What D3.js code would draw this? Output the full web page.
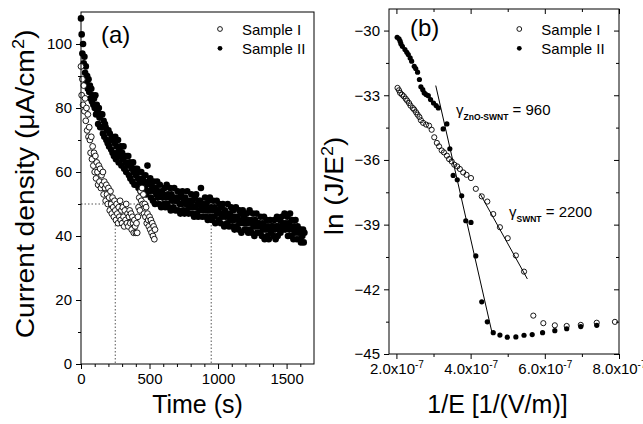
<!DOCTYPE html>
<html>
<head>
<meta charset="utf-8">
<script src="https://cdn.jsdelivr.net/npm/d3@7"></script>
<style>
  html, body { margin: 0; padding: 0; background: #fff; }
  svg { display: block; }
</style>
</head>
<body>
<svg id="chart" width="643" height="424"></svg>
<script>
// (a) current density (µA/cm2) vs time, one reading every STEP seconds
const SAMPLE1_STEP = 5;
const sample1Current = [
  93, 84, 89, 81, 87, 79, 83,
  76, 80, 73, 78, 71, 74,
  70, 66, 71, 64, 68, 62, 66, 60,
  65, 58, 63, 60, 56, 62, 57, 61, 55, 59,
  56, 60, 53, 57, 55, 51, 56, 53, 50, 55,
  52, 48, 54, 50, 47, 52, 49, 46, 51, 48,
  45, 50, 47, 44, 49, 46, 51, 45, 48, 44,
  49, 46, 43, 48, 45, 50, 44, 47, 43, 46,
  48, 44, 47, 42, 46, 44, 41, 45, 43, 41,
  44, 41, 46, 49, 52, 48, 54, 51, 55, 50,
  53, 47, 50, 46, 49, 44, 47, 45, 43, 46,
  42, 45, 41, 44, 40, 43, 39, 42
];
const SAMPLE2_STEP = 5;
const sample2Current = [
  108, 103, 97, 100, 94, 96, 91, 93, 88, 90, 86, 89, 85, 87, 83, 86, 82, 84, 81, 83,
  80, 84, 78, 81, 79, 75, 80, 77, 74, 78, 74, 78, 72, 76, 71, 75, 74, 70, 73, 69,
  73, 68, 72, 70, 67, 71, 66, 70, 65, 69, 71, 64, 68, 66, 70, 63, 67, 65, 68, 62,
  66, 64, 68, 61, 65, 63, 60, 65, 62, 65, 59, 63, 58, 62, 61, 57, 63, 60, 56, 61,
  59, 56, 61, 58, 55, 60, 57, 54, 60, 56, 58, 53, 57, 55, 59, 53, 56, 62, 54, 57,
  54, 58, 52, 56, 55, 51, 57, 54, 50, 55, 53, 57, 52, 54, 50, 56, 53, 49, 54, 52,
  53, 50, 55, 49, 52, 56, 50, 53, 49, 52, 55, 48, 53, 51, 52, 49, 55, 51, 48, 52,
  51, 54, 48, 52, 50, 47, 53, 50, 54, 48, 51, 47, 52, 50, 48, 54, 50, 47, 51, 49,
  50, 53, 47, 51, 49, 46, 52, 49, 53, 47, 50, 46, 51, 48, 51, 55, 49, 46, 50, 48,
  49, 52, 46, 50, 48, 45, 51, 48, 52, 46, 49, 45, 48, 51, 46, 49, 44, 48, 51, 47,
  48, 45, 50, 47, 44, 49, 46, 50, 47, 43, 48, 46, 47, 44, 50, 46, 43, 47, 45, 49,
  46, 43, 48, 45, 42, 46, 49, 43, 46, 45, 42, 48, 44, 47, 41, 45, 48, 44, 46, 42,
  45, 42, 47, 44, 41, 45, 48, 42, 45, 41, 44, 47, 43, 40, 45, 43, 47, 41, 44, 43,
  44, 41, 46, 43, 40, 44, 42, 46, 39, 43, 42, 45, 40, 43, 39, 42, 45, 41, 43, 42,
  43, 40, 45, 42, 39, 43, 46, 40, 43, 42, 45, 41, 43, 46, 42, 44, 43, 47, 42, 44,
  43, 46, 40, 44, 42, 47, 43, 40, 45, 42, 39, 43, 41, 45, 42, 39, 43, 41, 42, 39,
  42, 38, 41, 40, 42, 38, 41
];
const timeTicks = [0, 500, 1000, 1500];
const timeMinor = [100, 200, 300, 400, 600, 700, 800, 900, 1100, 1200, 1300, 1400, 1600];
const currentTicks = [0, 20, 40, 60, 80, 100];
const currentMinor = [10, 30, 50, 70, 90];
const guideCurrent = 50;
const guideTimes = [250, 950];

// (b) Fowler-Nordheim plot, 1/E in units of 1e-7 m/V
const fnInvE1 = [2.03, 2.07, 2.10, 2.15, 2.20, 2.25, 2.29, 2.34, 2.38, 2.44, 2.48, 2.53, 2.57, 2.62, 2.66,
  2.72, 2.80, 2.88, 2.95, 3.02, 3.09, 3.15, 3.22, 3.28, 3.36, 3.42, 3.49, 3.56, 3.64, 3.71,
  3.80, 3.89, 4.01, 4.14, 4.30, 4.45, 4.61, 4.79, 5.00, 5.22, 5.44, 5.69, 5.96, 6.27, 6.59, 6.97, 7.40, 7.89];
const fnLn1 = [-32.66, -32.77, -32.89, -32.97, -33.05, -33.16, -33.25, -33.36, -33.48, -33.59, -33.67, -33.79, -33.90, -34.01, -34.16,
  -34.28, -34.36, -34.41, -34.60, -34.95, -35.21, -35.37, -35.56, -35.65, -35.80, -35.96, -36.07, -36.22, -36.30, -36.42,
  -36.58, -36.69, -36.84, -37.34, -37.69, -37.93, -38.51, -39.12, -39.63, -40.43, -41.18, -43.22, -43.57, -43.67, -43.70, -43.65, -43.55, -43.51];
const fnInvE2 = [2.02, 2.07, 2.10, 2.12, 2.16, 2.23, 2.28, 2.32, 2.37, 2.41, 2.48, 2.52, 2.57, 2.62, 2.66,
  2.71, 2.75, 2.80, 2.86, 2.92, 3.00, 3.07, 3.13, 3.26, 3.36, 3.44, 3.53, 3.64, 3.76, 3.87,
  4.01, 4.14, 4.30, 4.45, 4.61, 4.79, 4.99, 5.22, 5.44, 5.66, 5.94, 6.27, 6.59, 6.97, 7.40];
const fnLn2 = [-30.31, -30.38, -30.49, -30.61, -30.73, -30.88, -31.01, -31.11, -31.27, -31.42, -31.66, -31.76, -31.93, -32.27, -32.61,
  -32.74, -32.89, -32.97, -33.02, -33.20, -33.36, -33.48, -33.59, -34.56, -34.33, -35.48, -36.72, -36.92, -37.66, -38.82,
  -38.90, -40.45, -42.58, -43.51, -44.01, -44.12, -44.22, -44.21, -44.13, -44.10, -44.01, -43.92, -43.83, -43.73, -43.67];
const fitZnO = [[3.06, -32.55], [4.57, -43.96]];
const fitSWNT = [[4.25, -37.55], [5.53, -41.52]];
const invETicks = [2, 4, 6, 8];
const invEMinor = [3, 5, 7];
const lnTicks = [-45, -42, -39, -36, -33, -30];
const lnMinor = [-43.5, -40.5, -37.5, -34.5, -31.5];

const FONT = '"Liberation Sans", Arial, sans-serif';
const svg = d3.select('#chart').attr('font-family', FONT);

const xA = d3.scaleLinear().domain([0, 1700]).range([81, 314]);
const yA = d3.scaleLinear().domain([0, 110]).range([364, 12]);
const xB = d3.scaleLinear().domain([1.8, 8.0]).range([389, 619]);
const yB = d3.scaleLinear().domain([-45, -29]).range([354, 9]);

// fmt: formatter for labelled ticks, or null for bare (minor / mirrored) ticks
function axis(g, gen, size, values, fmt) {
  g.call(gen.tickValues(values).tickSize(size).tickPadding(4).tickFormat(fmt || (() => '')))
    .attr('font-family', FONT).attr('font-size', 15);
  g.select('.domain').remove();
  g.selectAll('line').attr('stroke', '#000');
  g.selectAll('text').attr('fill', '#000');
  return g;
}

function frame(x, y) {
  svg.append('rect')
    .attr('x', x.range()[0]).attr('y', y.range()[1])
    .attr('width', x.range()[1] - x.range()[0]).attr('height', y.range()[0] - y.range()[1])
    .attr('fill', 'none').attr('stroke', '#000').attr('stroke-width', 1);
}

const plain = d3.format('d');

// --- Panel (a) ---
const guide = svg.append('g').attr('stroke', '#555').attr('stroke-width', 1).attr('stroke-dasharray', '1.5,2');
guide.append('line')
  .attr('x1', xA(0)).attr('x2', xA(d3.max(guideTimes)))
  .attr('y1', yA(guideCurrent)).attr('y2', yA(guideCurrent));
guideTimes.forEach(t => {
  guide.append('line')
    .attr('x1', xA(t)).attr('x2', xA(t))
    .attr('y1', yA(guideCurrent)).attr('y2', yA(0));
});

svg.append('g').selectAll('circle').data(sample2Current).join('circle')
  .attr('cx', (d, i) => xA(i * SAMPLE2_STEP)).attr('cy', d => yA(d))
  .attr('r', 3.3).attr('fill', '#000');
svg.append('g').selectAll('circle').data(sample1Current).join('circle')
  .attr('cx', (d, i) => xA(i * SAMPLE1_STEP)).attr('cy', d => yA(d))
  .attr('r', 2.9).attr('fill', '#fff').attr('stroke', '#000').attr('stroke-width', 0.9);

axis(svg.append('g').attr('transform', 'translate(81,0)'), d3.axisLeft(yA), 5, currentTicks, plain);
axis(svg.append('g').attr('transform', 'translate(81,0)'), d3.axisLeft(yA), 3, currentMinor, null);
axis(svg.append('g').attr('transform', 'translate(0,364)'), d3.axisBottom(xA), 5, timeTicks, plain);
axis(svg.append('g').attr('transform', 'translate(0,364)'), d3.axisBottom(xA), 3, timeMinor, null);
frame(xA, yA);

svg.append('text').attr('x', 101).attr('y', 42.5).attr('font-size', 24).text('(a)');

const yTitleA = svg.append('text')
  .attr('transform', 'translate(33.5,184) rotate(-90) scale(1.13,1)')
  .attr('text-anchor', 'middle').attr('font-size', 25);
yTitleA.append('tspan').text('Current density (\u03bcA/cm');
yTitleA.append('tspan').attr('dy', -10).attr('font-size', 16).text('2');
yTitleA.append('tspan').attr('dy', 10).text(')');

svg.append('text').attr('x', 197.5).attr('y', 413).attr('text-anchor', 'middle')
  .attr('font-size', 25).text('Time (s)');

function legend(x, y0) {
  svg.append('circle').attr('cx', x).attr('cy', y0 - 6).attr('r', 2.4)
    .attr('fill', '#fff').attr('stroke', '#000').attr('stroke-width', 0.9);
  svg.append('circle').attr('cx', x).attr('cy', y0 + 13.3).attr('r', 2.4).attr('fill', '#000');
  svg.append('text').attr('x', x + 22).attr('y', y0).attr('font-size', 15).text('Sample I');
  svg.append('text').attr('x', x + 22).attr('y', y0 + 18.5).attr('font-size', 15).text('Sample II');
}
legend(220, 35);

// --- Panel (b) ---
const line = d3.line().x(d => xB(d[0])).y(d => yB(d[1]));
svg.append('g').selectAll('circle').data(fnLn2).join('circle')
  .attr('cx', (d, i) => xB(fnInvE2[i])).attr('cy', d => yB(d))
  .attr('r', 2.6).attr('fill', '#000');
svg.append('g').selectAll('circle').data(fnLn1).join('circle')
  .attr('cx', (d, i) => xB(fnInvE1[i])).attr('cy', d => yB(d))
  .attr('r', 2.6).attr('fill', 'none').attr('stroke', '#000').attr('stroke-width', 0.9);
[fitZnO, fitSWNT].forEach(f => {
  svg.append('path').attr('d', line(f)).attr('fill', 'none').attr('stroke', '#000').attr('stroke-width', 1);
});

axis(svg.append('g').attr('transform', 'translate(389,0)'), d3.axisLeft(yB), 5, lnTicks, plain);
axis(svg.append('g').attr('transform', 'translate(389,0)'), d3.axisLeft(yB), 3, lnMinor, null);
axis(svg.append('g').attr('transform', 'translate(619,0)'), d3.axisLeft(yB), 5, lnTicks, null);
axis(svg.append('g').attr('transform', 'translate(619,0)'), d3.axisLeft(yB), 3, lnMinor, null);
const gxB = axis(svg.append('g').attr('transform', 'translate(0,354)'), d3.axisBottom(xB), 5, invETicks, plain);
axis(svg.append('g').attr('transform', 'translate(0,354)'), d3.axisBottom(xB), 3, invEMinor, null);
axis(svg.append('g').attr('transform', 'translate(0,9)'), d3.axisBottom(xB), 5, invETicks, null);
axis(svg.append('g').attr('transform', 'translate(0,9)'), d3.axisBottom(xB), 3, invEMinor, null);
gxB.selectAll('.tick text').each(function (d) {
  const t = d3.select(this).text(null);
  t.append('tspan').text(d.toFixed(1) + 'x10');
  t.append('tspan').attr('dy', -6).attr('font-size', 10).text('-7');
});
frame(xB, yB);

svg.append('text').attr('x', 410).attr('y', 36).attr('font-size', 24).text('(b)');

const yTitleB = svg.append('text')
  .attr('transform', 'translate(343,186) rotate(-90) scale(1.12,1)')
  .attr('text-anchor', 'middle').attr('font-size', 25);
yTitleB.append('tspan').text('ln (J/E');
yTitleB.append('tspan').attr('dy', -10).attr('font-size', 16).text('2');
yTitleB.append('tspan').attr('dy', 10).text(')');

svg.append('text').attr('x', 497.5).attr('y', 413).attr('text-anchor', 'middle')
  .attr('font-size', 25).text('1/E [1/(V/m)]');

legend(519.3, 35);

function gamma(x, y, sub, value) {
  const t = svg.append('text').attr('x', x).attr('y', y).attr('font-size', 15);
  t.append('tspan').text('\u03b3');
  t.append('tspan').attr('dy', 5).attr('font-size', 8.5).attr('font-weight', 'bold').text(sub);
  t.append('tspan').attr('dy', -5).text(' = ' + value);
}
gamma(456, 114.5, 'ZnO-SWNT', 960);
gamma(509, 216.5, 'SWNT', 2200);
</script>
</body>
</html>
